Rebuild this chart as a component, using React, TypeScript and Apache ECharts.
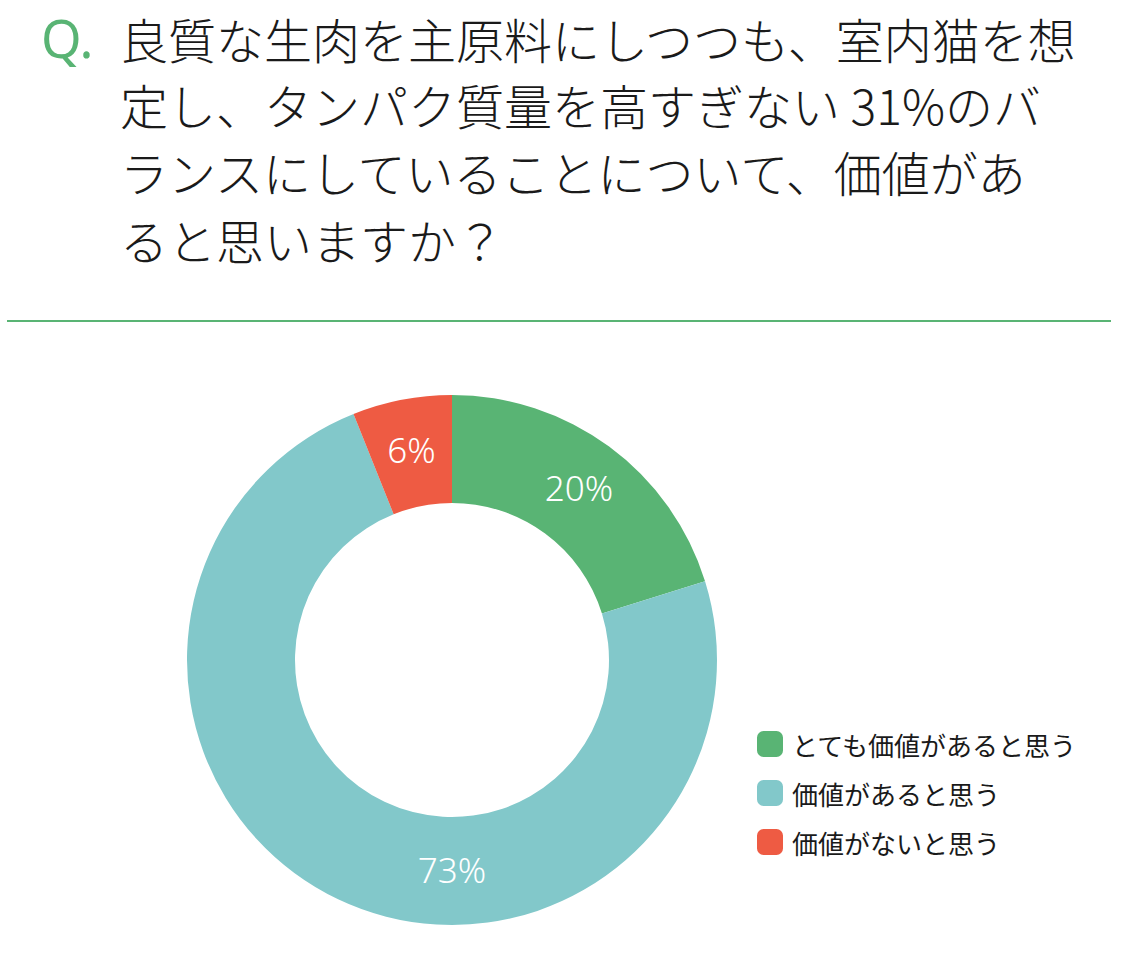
import React, { useEffect, useRef } from "react";
import * as echarts from "echarts";

const categories = ["とても価値があると思う", "価値があると思う", "価値がないと思う"];
const values = [20, 73, 6];
const labels = ["20%", "73%", "6%"];
const colors = ["#59B474", "#82C8CA", "#EE5B43"];
const titleLines = [
  "良質な生肉を主原料にしつつも、室内猫を想",
  "定し、タンパク質量を高すぎない 31%のバ",
  "ランスにしていることについて、価値があ",
  "ると思いますか？",
];

const CX = 452;
const CY = 660;
const R0 = 157;
const R1 = 265;

export default function App() {
  const ref = useRef<HTMLDivElement>(null);
  useEffect(() => {
    if (!ref.current) return;
    const chart = echarts.init(ref.current, undefined, { renderer: "svg" });
    const lineY = [38, 104, 171, 239];
    chart.setOption({
      animation: false,
      backgroundColor: "#ffffff",
      graphic: [
        {
          type: "text",
          left: 41,
          top: 11,
          style: {
            text: "Q.",
            fill: "#59B474",
            font: '400 52px "Noto Sans", "Noto Sans CJK JP", sans-serif',
          },
        },
        ...titleLines.map((t, i) => ({
          type: "text",
          x: 120,
          y: lineY[i],
          style: {
            text: t,
            fill: "#1a1a1a",
            font: '300 48px "Noto Sans CJK JP", sans-serif',
            verticalAlign: "middle",
            align: "left",
          },
        })),
        {
          type: "line",
          shape: { x1: 7, y1: 321, x2: 1111, y2: 321 },
          style: { stroke: "#59B474", lineWidth: 2 },
        },
      ],
      legend: {
        orient: "vertical",
        left: 752,
        top: 726,
        itemWidth: 26,
        itemHeight: 26,
        itemGap: 23,
        icon: "roundRect",
        data: categories,
        textStyle: {
          fontSize: 26,
          color: "#1a1a1a",
          fontFamily: '"Noto Sans CJK JP", sans-serif',
          padding: [0, 0, 0, 4],
        },
      },
      series: [
        {
          type: "pie",
          center: [CX, CY],
          radius: [R0, R1],
          startAngle: 90,
          clockwise: true,
          avoidLabelOverlap: false,
          silent: true,
          itemStyle: { borderWidth: 0 },
          label: {
            show: true,
            position: "inside",
            color: "#ffffff",
            fontSize: 35,
            fontWeight: 300,
            fontFamily: '"Noto Sans", "Open Sans", sans-serif',
            formatter: (p: any) => labels[p.dataIndex],
          },
          labelLine: { show: false },
          labelLayout: (p: any) => {
            if (p.dataIndex === 1) {
              return { x: CX, y: CY + (R0 + R1) / 2 - 2, align: "center", verticalAlign: "middle" };
            }
            return {};
          },
          data: categories.map((name, i) => ({
            name,
            value: values[i],
            itemStyle: { color: colors[i] },
          })),
        },
      ],
    });
    return () => chart.dispose();
  }, []);
  return (
    <div
      ref={ref}
      style={{ position: "absolute", left: 0, top: 0, width: 1126, height: 956 }}
    />
  );
}
